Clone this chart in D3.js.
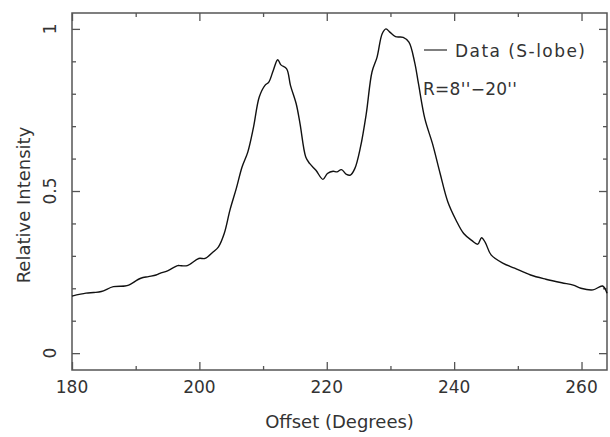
<!DOCTYPE html>
<html><head><meta charset="utf-8">
<script src="https://cdn.jsdelivr.net/npm/d3@7"></script>
<style>body{margin:0;background:#fff}svg{display:block}</style>
</head><body>
<script>
const offsetDeg = [180,182.2,183.4,184.6,186.5,188.3,188.9,190.8,192,193.2,193.8,195,196.6,196.9,198.1,199.9,200.9,202.1,203,203.9,204.8,205.8,206.7,207.6,208.5,209.4,210.3,210.9,211.6,212.3,212.8,213.7,214.3,215.2,215.8,216.7,217.3,218.3,219.4,220.1,221,221.6,222.3,223.1,223.7,224.4,225.3,226.2,227.1,227.9,228.7,229.3,229.9,230.8,232,232.9,233.8,234.4,235.4,236.6,237.8,239,240.3,241.5,242.8,243.7,244.3,244.9,245.8,247.7,249.5,252,254.4,256.9,258.7,259.9,261.8,263.3,264];
const intensity = [0.176,0.185,0.187,0.19,0.205,0.207,0.21,0.231,0.236,0.241,0.246,0.254,0.27,0.27,0.27,0.292,0.292,0.311,0.328,0.369,0.441,0.508,0.574,0.62,0.697,0.79,0.826,0.836,0.872,0.905,0.889,0.877,0.826,0.769,0.708,0.605,0.585,0.564,0.536,0.554,0.561,0.559,0.566,0.551,0.549,0.569,0.636,0.738,0.867,0.913,0.985,1.0,0.99,0.976,0.974,0.959,0.897,0.831,0.723,0.646,0.554,0.467,0.41,0.369,0.347,0.336,0.356,0.341,0.303,0.277,0.262,0.241,0.228,0.217,0.21,0.2,0.195,0.207,0.185];
const xMajorTicks = [180,200,220,240,260];
const xMinorTicks = [190,210,230,250];
const yMajorTicks = [0,0.5,1];
const yMinorTicks = [0.1,0.2,0.3,0.4,0.6,0.7,0.8,0.9];
const yTickLabels = ["0","0.5","1"];
const xTitle = "Offset (Degrees)";
const yTitle = "Relative Intensity";
const legendLabel = "Data (S-lobe)";
const annotation = "R=8''\u221220''";

const W = 610, H = 437;
const L = 72, R = 607, T = 13, B = 370;
const x = d3.scaleLinear().domain([180, 264]).range([L, R]);
const y = d3.scaleLinear().domain([-0.052, 1.049]).range([B, T]);

const svg = d3.select("body").append("svg").attr("width", W).attr("height", H);
const axisColor = "#555";
const textColor = "#333";
const font = "'DejaVu Sans', sans-serif";

svg.append("rect").attr("x", L).attr("y", T).attr("width", R - L).attr("height", B - T)
  .attr("fill", "none").attr("stroke", axisColor).attr("stroke-width", 1.5);

function mkAxis(axisFn, scale, ticks, size, tr) {
  const g = svg.append("g").attr("transform", tr)
    .call(axisFn(scale).tickValues(ticks).tickSize(size).tickFormat(""));
  g.select(".domain").remove();
  g.selectAll("line").attr("stroke", axisColor).attr("stroke-width", 1.3);
  return g;
}
mkAxis(d3.axisTop, x, xMajorTicks, 8, `translate(0,${B})`);
mkAxis(d3.axisTop, x, xMinorTicks, 4, `translate(0,${B})`);
mkAxis(d3.axisBottom, x, xMajorTicks, 8, `translate(0,${T})`);
mkAxis(d3.axisBottom, x, xMinorTicks, 4, `translate(0,${T})`);
mkAxis(d3.axisRight, y, yMajorTicks, 8, `translate(${L},0)`);
mkAxis(d3.axisRight, y, yMinorTicks, 4, `translate(${L},0)`);
mkAxis(d3.axisLeft, y, yMajorTicks, 8, `translate(${R},0)`);
mkAxis(d3.axisLeft, y, yMinorTicks, 4, `translate(${R},0)`);

svg.append("g").selectAll("text").data(xMajorTicks).join("text")
  .attr("x", d => x(d)).attr("y", 393).attr("text-anchor", "middle")
  .attr("font-family", font).attr("font-size", 17).attr("fill", textColor)
  .text(d => d);
svg.append("g").selectAll("text").data(yMajorTicks).join("text")
  .attr("transform", (d) => `translate(56,${y(d)}) rotate(-90)`)
  .attr("text-anchor", "middle")
  .attr("font-family", font).attr("font-size", 17).attr("fill", textColor)
  .text((d, i) => yTickLabels[i]);

svg.append("text").attr("x", (L + R) / 2).attr("y", 428).attr("text-anchor", "middle")
  .attr("font-family", font).attr("font-size", 18).attr("fill", textColor).text(xTitle);
svg.append("text").attr("transform", `translate(30,205) rotate(-90)`).attr("text-anchor", "middle")
  .attr("font-family", font).attr("font-size", 18).attr("fill", textColor).text(yTitle);

const path = d3.line().x(d => x(d[0])).y(d => y(d[1])).curve(d3.curveCatmullRom.alpha(0.5));
const pts = offsetDeg.map((v, i) => [v, intensity[i]]);
svg.append("path").attr("d", path(pts)).attr("fill", "none").attr("stroke", "#111").attr("stroke-width", 1.4);

svg.append("line").attr("x1", 424).attr("x2", 447).attr("y1", 50).attr("y2", 50)
  .attr("stroke", axisColor).attr("stroke-width", 1.5);
svg.append("text").attr("x", 455).attr("y", 57).attr("font-family", font).attr("font-size", 17)
  .attr("fill", textColor).attr("textLength", 130).attr("lengthAdjust", "spacing").text(legendLabel);
svg.append("text").attr("x", 423).attr("y", 95).attr("font-family", font).attr("font-size", 17)
  .attr("fill", textColor).attr("textLength", 94).attr("lengthAdjust", "spacing").text(annotation);
</script>
</body></html>
